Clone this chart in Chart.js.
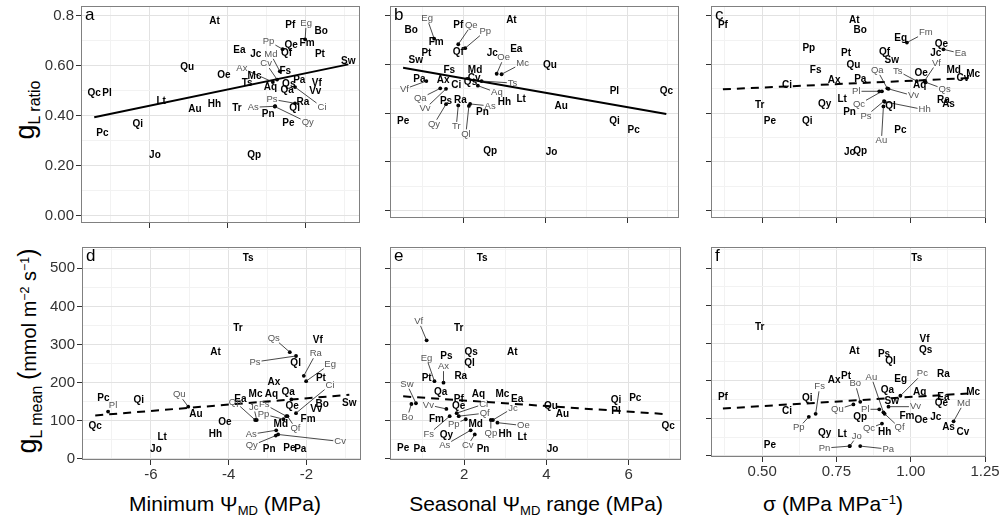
<!DOCTYPE html>
<html><head><meta charset="utf-8">
<script src="https://cdn.jsdelivr.net/npm/chart.js@4/dist/chart.umd.min.js"></script>
<style>
html,body{margin:0;padding:0;background:#fff;}
body{width:1003px;height:525px;position:relative;overflow:hidden;font-family:"Liberation Sans",Arial,sans-serif;color:#000;}
canvas{position:absolute;}
.t{position:absolute;white-space:nowrap;line-height:1;}
.sub{font-size:0.62em;position:relative;top:0.32em;}
.sup{font-size:0.62em;position:relative;top:-0.55em;}
</style></head><body>

<div class="t" style="left:25px;top:110px;transform:translate(-50%,-50%) rotate(-90deg);font-size:27px;">g<span style="font-size:16px;position:relative;top:6px;">L ratio</span></div>
<div class="t" style="left:27px;top:351px;transform:translate(-50%,-50%) rotate(-90deg);font-size:20px;"><span style="font-size:27px;">g</span><span style="font-size:16px;position:relative;top:6px;">L mean</span> <span style="font-size:25px;">(</span>mmol m<span class="sup">&minus;2</span> s<span class="sup">&minus;1</span><span style="font-size:25px;">)</span></div>
<div class="t" style="left:225px;top:503px;transform:translate(-50%,-50%);font-size:21px;">Minimum &Psi;<span class="sub">MD</span> (MPa)</div>
<div class="t" style="left:536px;top:503px;transform:translate(-50%,-50%);font-size:21px;">Seasonal &Psi;<span class="sub">MD</span> range (MPa)</div>
<div class="t" style="left:833px;top:503px;transform:translate(-50%,-50%);font-size:21px;">&sigma; (MPa MPa<span class="sup">&minus;1</span>)</div>

<script>
// ---------------- DATA ----------------
const species = ['Aq','As','At','Au','Ax','Bo','Ci','Cv','Ea','Eg','Fm','Fs','Hh','Jc','Jo','Lt','Mc','Md','Oe','Pa','Pc','Pe','Pf','Pl','Pn','Pp','Ps','Pt','Qa','Qc','Qe','Qf','Qi','Ql','Qp','Qs','Qu','Qy','Ra','Sw','Tr','Ts','Vf','Vv'];
// Minimum midday water potential (MPa)
const minPsiMD = [-2.90,-2.78,-4.34,-4.84,-2.84,-1.60,-2.27,-2.73,-3.70,-2.01,-1.96,-2.52,-4.34,-3.28,-5.87,-5.71,-3.31,-2.66,-4.10,-2.16,-7.22,-2.44,-2.39,-7.10,-2.96,-2.59,-2.27,-1.63,-2.47,-7.43,-2.37,-2.49,-6.31,-2.28,-3.32,-2.43,-5.04,-2.79,-2.07,-0.90,-3.76,-3.50,-1.71,-1.75];
// Seasonal midday water potential range (MPa)
const rangePsiMD = [2.35,2.16,3.17,4.39,1.50,0.72,1.82,2.26,3.29,1.28,1.33,1.65,3.00,2.70,4.15,3.41,2.93,2.28,2.81,0.92,6.16,0.52,1.87,5.69,2.46,2.04,1.57,1.09,1.43,6.96,1.87,1.87,5.69,2.13,2.65,2.17,4.11,1.57,1.92,0.83,1.87,2.44,1.09,1.57];
// sigma (MPa MPa-1)
const sigma = [1.030,1.127,0.810,0.908,0.742,0.830,0.584,1.175,1.110,0.966,0.987,0.680,0.912,1.084,0.795,0.769,1.210,1.144,1.035,0.830,0.965,0.526,0.368,0.894,0.794,0.657,0.910,0.782,0.921,0.903,1.103,0.912,0.652,0.932,0.830,1.050,0.807,0.710,1.110,0.936,0.492,1.020,1.046,0.925];
// gL ratio
const gLratio = [0.513,0.438,0.780,0.428,0.535,0.740,0.515,0.545,0.662,0.706,0.690,0.578,0.447,0.648,0.240,0.458,0.560,0.578,0.562,0.541,0.330,0.368,0.762,0.490,0.405,0.667,0.450,0.645,0.502,0.490,0.683,0.652,0.365,0.430,0.243,0.527,0.595,0.437,0.453,0.618,0.432,0.532,0.532,0.500];
// gL mean (mmol m-2 s-1)
const gLmean = [170,75,279,116,200,144,120,64,156,204,105,112,64,102,26,58,170,92,95,26,160,27,156,124,26,104,270,211,176,86,139,112,154,252,102,280,137,61,218,146,342,526,311,131];

// regression lines (end points)
const fitPsiRatioX = [-7.43,-0.90],  fitPsiRatioY = [0.394,0.606];
const fitRangeRatioX = [0.52,6.96],  fitRangeRatioY = [0.587,0.397];
const fitSigmaRatioX = [0.368,1.21], fitSigmaRatioY = [0.498,0.545];
const fitPsiMeanX = [-7.43,-0.90],   fitPsiMeanY = [114,168];
const fitRangeMeanX = [0.52,6.96],   fitRangeMeanY = [164,117];
const fitSigmaMeanX = [0.368,1.21],  fitSigmaMeanY = [126,167];

// ticks
const psiTicks = [-6,-4,-2], psiTickLabels = ['-6','-4','-2'], psiMinor = [-7,-5,-3,-1];
const rangeTicks = [2,4,6], rangeTickLabels = ['2','4','6'], rangeMinor = [1,3,5,7];
const sigmaTicks = [0.5,0.75,1.0,1.25], sigmaTickLabels = ['0.50','0.75','1.00','1.25'], sigmaMinor = [0.375,0.625,0.875,1.125];
const ratioTicks = [0,0.2,0.4,0.6,0.8], ratioTickLabels = ['0.00','0.20','0.40','0.60','0.8'], ratioMinor = [0.1,0.3,0.5,0.7];
const meanTicks = [0,100,200,300,400,500], meanTickLabels = ['0','100','200','300','400','500'], meanMinor = [50,150,250,350,450,550];

// ---------------- LABEL LAYOUT (pixel offsets of repelled labels) ----------------
const leaderA = {Eg:[1,-16],Pp:[-14,-8],Md:[-9,-17],Ax:[-31,-14],Cv:[-11,-16],Ci:[27,20],Ps:[-23,-4],As:[-22,1],Qy:[33,16]};
const leaderB = {Eg:[-7,-20],Qe:[13,-19],Pp:[20,-17],Oe:[7,-16],Mc:[21,-11],Ts:[31,2],Aq:[19,7],Vf:[-22,8],Qa:[-20,10],Vv:[-21,20],Qy:[-12,20],Tr:[-2,21],Ql:[-3,28],As:[20,2]};
const leaderC = {Fm:[19,-10],Ea:[17,4],Vf:[12,-18],Qa:[-10,-18],Ts:[-19,-10],Qs:[19,7],Pl:[-23,0],Vv:[25,7],Qc:[-23,13],Ps:[-18,15],Hh:[40,8],Au:[-2,34]};
const leaderD = {Qs:[-16,-14],Ps:[-41,6],Ra:[12,-22],Eg:[24,-17],Ci:[34,-28],Fs:[-22,-12],Pp:[-20,-5],Qf:[8,12],As:[-25,4],Qy:[-24,10],Cv:[62,7],Jc:[-3,-13],Qp:[-20,-18],Qu:[-9,-12],Pl:[5,-6]};
const leaderE = {Vf:[-8,-19],Eg:[-8,-23],Ax:[0,-16],Sw:[-9,-19],Bo:[-4,13],Vv:[-18,-4],Ci:[27,-9],Qf:[26,-3],Pp:[-12,5],Fs:[-21,18],As:[-26,15],Cv:[-7,11],Jc:[20,-12],Qp:[0,13],Oe:[26,3]};
const leaderF = {Bo:[-5,-18],Au:[-12,-35],Pc:[22,-22],Md:[10,-18],Vv:[27,0],Pl:[-14,0],Qf:[15,14],Qu:[-16,5],Qc:[-13,5],Jo:[7,-10],Pn:[-25,2],Pa:[28,3],Fs:[4,-27],Pp:[-10,11]};
const dotOnlyD = ['Pf'];

// ---------------- BUILD ----------------
const FONT = '"Liberation Sans", Arial, sans-serif';
const PADL = 48, PADT = 12, PADR = 20, PADB = 30;

const panels = [
  {letter:'a', x:minPsiMD, y:gLratio, rect:[81,6,360,223], xr:[-7.77,-0.6], yr:[-0.03,0.84],
   xt:psiTicks, xl:null, xm:psiMinor, yt:ratioTicks, yl:ratioTickLabels, ym:ratioMinor, fx:fitPsiRatioX, fy:fitPsiRatioY, dash:false, lead:leaderA, dots:[]},
  {letter:'b', x:rangePsiMD, y:gLratio, rect:[390,6,679,218], xr:[0.2,7.27], yr:[-0.03,0.84],
   xt:rangeTicks, xl:null, xm:rangeMinor, yt:ratioTicks, yl:null, ym:ratioMinor, fx:fitRangeRatioX, fy:fitRangeRatioY, dash:false, lead:leaderB, dots:[]},
  {letter:'c', x:sigma, y:gLratio, rect:[711,6,986,218], xr:[0.328,1.253], yr:[-0.03,0.84],
   xt:sigmaTicks, xl:null, xm:sigmaMinor, yt:ratioTicks, yl:null, ym:ratioMinor, fx:fitSigmaRatioX, fy:fitSigmaRatioY, dash:true, lead:leaderC, dots:[]},
  {letter:'d', x:minPsiMD, y:gLmean, rect:[82,247,361,460], xr:[-7.77,-0.6], yr:[-3,556],
   xt:psiTicks, xl:psiTickLabels, xm:psiMinor, yt:meanTicks, yl:meanTickLabels, ym:meanMinor, fx:fitPsiMeanX, fy:fitPsiMeanY, dash:true, lead:leaderD, dots:dotOnlyD},
  {letter:'e', x:rangePsiMD, y:gLmean, rect:[390,247,681,460], xr:[0.2,7.27], yr:[-3,556],
   xt:rangeTicks, xl:rangeTickLabels, xm:rangeMinor, yt:meanTicks, yl:null, ym:meanMinor, fx:fitRangeMeanX, fy:fitRangeMeanY, dash:true, lead:leaderE, dots:[]},
  {letter:'f', x:sigma, y:gLmean, rect:[711,247,986,457], xr:[0.328,1.253], yr:[-3,556],
   xt:sigmaTicks, xl:sigmaTickLabels, xm:sigmaMinor, yt:meanTicks, yl:null, ym:meanMinor, fx:fitSigmaMeanX, fy:fitSigmaMeanY, dash:true, lead:leaderF, dots:[]}
];

function isIn(arr, v){ return arr.some(a => Math.abs(a - v) < 1e-6); }
function labelFor(ticks, labels, v){
  if(!labels) return '';
  for(let i=0;i<ticks.length;i++) if(Math.abs(ticks[i]-v)<1e-6) return labels[i];
  return '';
}

function makeAxis(p, isX){
  const major = isX ? p.xt : p.yt, minor = isX ? p.xm : p.ym, labels = isX ? p.xl : p.yl;
  const rng = isX ? p.xr : p.yr;
  const all = major.concat(minor).filter(v => v >= rng[0] && v <= rng[1]).sort((a,b)=>a-b);
  return {
    type:'linear', position: isX ? 'bottom' : 'left', min:rng[0], max:rng[1],
    afterBuildTicks: s => { s.ticks = all.map(v => ({value:v})); },
    afterFit: s => { if(isX) s.height = PADB; else s.width = PADL; },
    border:{display:false},
    grid:{
      drawOnChartArea:true, drawTicks:true, tickLength:5, lineWidth:1,
      color: c => (c.tick && isIn(major, c.tick.value)) ? '#e2e2e2' : '#f2f2f2',
      tickColor: c => (c.tick && isIn(major, c.tick.value)) ? '#333333' : 'rgba(0,0,0,0)',
      tickWidth:1
    },
    ticks:{
      autoSkip:false, maxRotation:0, minRotation:0, padding: isX ? 1 : 2,
      color:'#333', font:{family:FONT, size:15},
      callback: v => labelFor(major, labels, v)
    }
  };
}

function makePlugin(p){
  return {
    id:'speciesLabels_'+p.letter,
    afterDatasetsDraw(chart){
      const ctx = chart.ctx, xs = chart.scales.x, ys = chart.scales.y, ca = chart.chartArea;
      ctx.save();
      species.forEach((sp,i) => {
        if (p.dots.includes(sp)) return;
        const px = xs.getPixelForValue(p.x[i]), py = ys.getPixelForValue(p.y[i]);
        const off = p.lead[sp];
        if (off) {
          ctx.font = '9.5px ' + FONT;
          const w = ctx.measureText(sp).width, h = 7;
          const lx = px + off[0], ly = py + off[1];
          const dx = px - lx, dy = py - ly;
          const tx = dx !== 0 ? (w/2 + 1) / Math.abs(dx) : Infinity;
          const ty = dy !== 0 ? (h/2 + 1) / Math.abs(dy) : Infinity;
          const t = Math.min(tx, ty);
          if (t < 1) {
            ctx.strokeStyle = '#1a1a1a'; ctx.lineWidth = 0.8;
            ctx.beginPath(); ctx.moveTo(px, py); ctx.lineTo(lx + dx*t, ly + dy*t); ctx.stroke();
          }
          ctx.fillStyle = '#555'; ctx.textAlign = 'center'; ctx.textBaseline = 'middle';
          ctx.fillText(sp, lx, ly);
        } else {
          ctx.font = 'bold 10px ' + FONT;
          ctx.fillStyle = '#000'; ctx.textAlign = 'center'; ctx.textBaseline = 'middle';
          ctx.fillText(sp, px, py);
        }
      });
      ctx.font = '17px ' + FONT; ctx.fillStyle = '#000'; ctx.textAlign = 'left'; ctx.textBaseline = 'top';
      ctx.fillText(p.letter, ca.left + 4, ca.top + 1);
      ctx.strokeStyle = '#808080'; ctx.lineWidth = 1;
      ctx.strokeRect(Math.round(ca.left)+0.5, Math.round(ca.top)+0.5, Math.round(ca.right-ca.left)-1, Math.round(ca.bottom-ca.top)-1);
      ctx.restore();
    }
  };
}

panels.forEach(p => {
  const [l,t,r,b] = p.rect;
  const cv = document.createElement('canvas');
  const W = (r - l) + PADL + PADR, H = (b - t) + PADT + PADB;
  cv.width = W; cv.height = H;
  cv.style.left = (l - PADL) + 'px'; cv.style.top = (t - PADT) + 'px';
  cv.style.width = W + 'px'; cv.style.height = H + 'px';
  document.body.appendChild(cv);
  const pts = species.map((s,i) => ({x:p.x[i], y:p.y[i]}));
  const fit = p.fx.map((v,i) => ({x:v, y:p.fy[i]}));
  new Chart(cv, {
    type:'scatter',
    data:{datasets:[
      {data:fit, showLine:true, borderColor:'#000', borderWidth:2, borderDash: p.dash ? [8,6] : [], pointRadius:0, fill:false, order:2},
      {data:pts, pointRadius: c => { const s = species[c.dataIndex]; return (p.lead[s] || p.dots.includes(s)) ? 1.9 : 0; },
       backgroundColor:'#000', borderWidth:0, order:1}
    ]},
    options:{
      responsive:false, animation:false, devicePixelRatio:1, events:[],
      layout:{padding:{top:PADT, right:PADR, left:0, bottom:0}},
      plugins:{legend:{display:false}, tooltip:{enabled:false}},
      scales:{x: makeAxis(p, true), y: makeAxis(p, false)}
    },
    plugins:[makePlugin(p)]
  });
});
</script>
</body></html>
